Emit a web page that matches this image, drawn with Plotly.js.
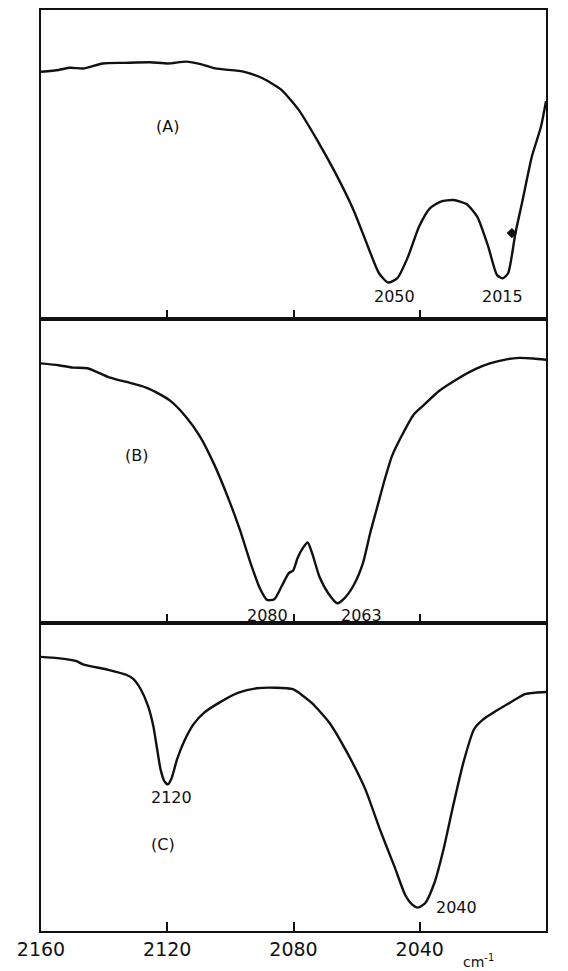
<!DOCTYPE html>
<html>
<head>
<meta charset="utf-8">
<script src="https://cdn.plot.ly/plotly-3.0.1.min.js"></script>
<style>html,body{margin:0;padding:0;background:#fff;}#chart{width:568px;height:971px;}</style>
</head>
<body>
<div id="chart"></div>
<script>
// Wavenumber (cm-1) and relative transmittance (0 = panel bottom, 100 = panel top)
const waveA = [2160,2154.4,2150.9,2146.3,2140.5,2133.6,2125.5,2119.8,2114.0,2109.4,2104.8,2095.6,2089.8,2084.0,2078.3,2072.5,2066.7,2061.0,2056.4,2052.9,2050.0,2047.1,2043.7,2040.2,2036.8,2033.3,2029.3,2025.2,2021.8,2018.3,2015.5,2013.7,2012.0,2009.7,2007.4,2004.5,2001.6,2000];
const transA = [80.0,80.6,81.3,81.1,82.7,82.9,83.1,82.7,83.3,82.5,81.1,80.0,77.9,74.3,67.6,57.9,47.2,35.3,23.4,14.8,11.8,13.2,20.2,29.9,35.8,38.0,38.5,37.2,33.1,23.4,14.2,13.2,14.8,27.7,38.5,52.5,62.2,70.5];

const waveB = [2160,2154.4,2149.8,2145.3,2138.4,2131.5,2126.9,2122.3,2118.9,2114.3,2109.7,2105.1,2100.5,2097.0,2093.6,2090.7,2088.4,2086.1,2083.8,2081.5,2080.1,2078.7,2077.0,2075.5,2074.1,2071.8,2069.0,2066.1,2063.8,2060.9,2058.0,2055.7,2053.4,2051.1,2048.8,2046.0,2041.9,2038.5,2033.9,2028.2,2022.4,2017.8,2012.1,2008.6,2004.0,2000];
const transB = [85.4,84.8,84.0,83.8,80.8,78.9,77.5,75.2,73.0,68.1,61.5,52.1,40.6,30.7,19.7,11.5,7.6,7.8,12.0,16.4,17.3,21.4,24.7,26.5,23.0,15.3,9.8,6.5,8.2,12.5,19.7,29.6,38.4,47.2,54.9,61.0,68.6,71.9,76.3,80.2,83.5,85.4,86.8,87.2,87.0,86.6];

const waveC = [2160,2154.8,2149.0,2146.7,2138.7,2133.0,2130.7,2128.4,2126.1,2124.4,2123.2,2122.1,2120.9,2119.8,2118.6,2116.9,2114.6,2111.7,2108.3,2103.1,2097.4,2091.7,2085.9,2080.2,2074.4,2068.7,2063.0,2057.2,2052.6,2048.0,2044.6,2042.3,2040.6,2038.3,2035.4,2032.5,2029.7,2026.2,2022.8,2019.9,2015.9,2011.3,2006.7,2003.3,2000];
const transC = [89.0,88.6,87.7,86.6,84.8,83.2,81.8,78.5,73.1,66.5,59.0,52.4,48.6,47.6,49.7,55.7,61.7,67.1,70.9,74.4,77.4,78.8,79.0,78.5,74.2,67.7,57.9,45.9,32.9,20.9,11.7,8.5,7.6,9.0,15.5,26.4,39.4,54.6,65.5,68.7,71.4,74.2,76.9,77.4,77.6];

// ink blot on trace A
const blotWave = [2010.8];
const blotTrans = [27.8];

const tickVals = [2160,2120,2080,2040,2000];
const tickText = ['2160','2120','2080','2040','2000'];

const peakLabelsA = {text:['2050','2015'], x:[2048.1,2013.7], y:[7.4,7.4]};
const peakLabelsB = {text:['2080','2063'], x:[2088.1,2058.6], y:[2.6,2.6]};
const peakLabelsC = {text:['2120','2040'], x:[2118.6,2028.5], y:[43.2,7.6]};
const panelNames = {text:['(A)','(B)','(C)'], x:[2120,2129.8,2121.5], y:[62.2,55.1,28.0]};

const lineStyle = {color:'#111', width:2.4, shape:'spline', smoothing:0.6};
const traces = [
  {x:waveA, y:transA, xaxis:'x', yaxis:'y', mode:'lines', line:lineStyle, hoverinfo:'skip'},
  {x:blotWave, y:blotTrans, xaxis:'x', yaxis:'y', mode:'markers', marker:{color:'#111', size:8, symbol:'diamond'}, hoverinfo:'skip'},
  {x:waveB, y:transB, xaxis:'x2', yaxis:'y2', mode:'lines', line:lineStyle, hoverinfo:'skip'},
  {x:waveC, y:transC, xaxis:'x3', yaxis:'y3', mode:'lines', line:lineStyle, hoverinfo:'skip'}
];

function xax(anchor, labels){
  return {anchor:anchor, range:[2160,2000], autorange:false, showline:true, mirror:true,
    linecolor:'#111', linewidth:1.8, showgrid:false, zeroline:false,
    tickmode:'array', tickvals:tickVals, ticktext:tickText, ticks:'inside', ticklen:9, tickwidth:2, tickcolor:'#111',
    showticklabels:labels, tickfont:{family:'DejaVu Sans', size:19, color:'#111'}};
}
function yax(anchor, dom){
  return {anchor:anchor, domain:dom, range:[0,100], autorange:false, showline:true, mirror:true,
    linecolor:'#111', linewidth:2, showgrid:false, zeroline:false, showticklabels:false, ticks:''};
}

const annotations = [];
function addLabels(set, xr, yr, size){
  set.text.forEach((t,i)=>annotations.push({text:t, x:set.x[i], y:set.y[i], xref:xr, yref:yr,
    showarrow:false, xanchor:'center', yanchor:'middle', font:{family:'DejaVu Sans', size:size, color:'#111'}}));
}
addLabels(peakLabelsA,'x','y',16);
addLabels(peakLabelsB,'x2','y2',16);
addLabels(peakLabelsC,'x3','y3',16);
['x','x2','x3'].forEach((xr,i)=>{
  const yr = ['y','y2','y3'][i];
  annotations.push({text:panelNames.text[i], x:panelNames.x[i], y:panelNames.y[i], xref:xr, yref:yr,
    showarrow:false, font:{family:'DejaVu Sans', size:16, color:'#111'}});
});
annotations.push({text:'cm<sup>-1</sup>', xref:'paper', yref:'paper', x:0.867, y:-0.033,
  xanchor:'center', yanchor:'middle', showarrow:false, font:{family:'DejaVu Sans', size:14, color:'#111'}});

const layout = {
  width:568, height:971, margin:{l:41, r:22, t:10, b:40},
  paper_bgcolor:'#fff', plot_bgcolor:'#fff', showlegend:false,
  xaxis: xax('y', false),
  xaxis2: xax('y2', false),
  xaxis3: xax('y3', true),
  yaxis: yax('x', [0.6645,1]),
  yaxis2: yax('x2', [0.3344,0.6645]),
  yaxis3: yax('x3', [0,0.3344]),
  annotations: annotations
};

Plotly.newPlot('chart', traces, layout, {staticPlot:true, displayModeBar:false});
</script>
</body>
</html>
